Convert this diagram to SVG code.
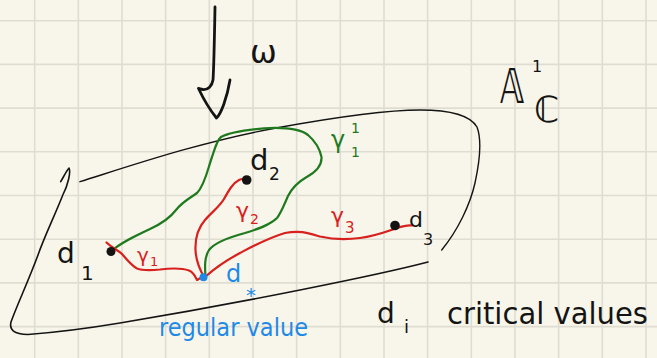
<svg xmlns="http://www.w3.org/2000/svg" width="657" height="358" viewBox="0 0 657 358">
<style>
.ink{fill:none;stroke-linecap:round;stroke-linejoin:round}
.blk{stroke:#141414}
.red{stroke:#d8201e;stroke-width:2.2}
.grn{stroke:#1f7a1f;stroke-width:2.2}
.grid{stroke:#dfddd1;stroke-width:1.6;fill:none}
.t{font-family:"DejaVu Sans",sans-serif}
.tk{fill:#141414}
.tr{fill:#d8201e}
.tg{fill:#1f7a1f}
.tb{fill:#1e8ae6}
</style>
<rect width="657" height="358" fill="#f8f6ea"/>
<g id="grid">
<path class="grid" d="M34.7,0V358M78.3,0V358M122,0V358M165.6,0V358M209.3,0V358M253,0V358M296.6,0V358M340.3,0V358M384,0V358M427.6,0V358M471.3,0V358M515,0V358M558.6,0V358M602.3,0V358M646,0V358M0,20.7H657M0,64.4H657M0,108.1H657M0,151.8H657M0,195.5H657M0,239.2H657M0,282.9H657M0,326.6H657"/>
</g>
<g id="plane">
<path class="ink blk" stroke-width="1.6" d="M60.7,181.7C64,176 67,170 69,168C71,172 68,185 62.8,195C55,215 45,235 38,255C28,282 17,305 11,322C9,330 14,334 28,334.5C60,332 90,328 120,323C180,313 240,302 300,290C340,282 390,272 428,262"/>
<path class="ink blk" stroke-width="1.4" d="M80,181.7C130,166 200,142 276,128C320,120 380,110 420,110C450,110 470,115 477,127C482,140 480,160 475,183C470,205 458,230 441.7,250"/>
</g>
<g id="arrow">
<path class="ink blk" stroke-width="2.8" d="M215,7C214.5,35 214,65 213,80C212,86 208,90 203,89.5C200,89 198,88 198.5,88.5C203,98 210,110 216.5,118C221,114 227,98 230,80"/>
</g>
<g id="connectors">
<path id="gamma1p" class="ink grn" d="M111,251.5C120,243 135,236 150,229C163,223 170,218 176,210C182,202 190,198 197,193C205,185 208,168 212,157C215,148 217,140 221,137C230,132 245,130 264,128.3C285,127 300,129 308,135C315,141 320,150 321.5,157C322,165 316,172 306.7,177C298,182 292,188 288,196C284,205 281,213 277,218C270,225 258,229 245,233C230,237 215,242 209,250C204,258 205,268 205.5,277"/>
<path id="gamma1" class="ink red" d="M106.5,242.5C112,248 118,250 122,254C128,261 132,266 137,268.5C142,270.5 150,270.5 160,269.5C172,268 182,268 189,270.5C195,273 196,279 197,280C199,279 201,277 204,277"/>
<path id="gamma2" class="ink red" d="M204,277C200,270 196,262 195.5,250C195,238 198,228 205,220C212,212 220,206 224,199C229,190 233,183 239,180C242,178.5 245,179 247,180"/>
<path id="gamma3" class="ink red" d="M205,277C215,268 225,261 240,253C255,245 268,238 285,233C300,230 308,233 320,236.5C333,239.5 345,240 360,238C375,236 388,231 397,228C403,226 408,225 412,225.5"/>
</g>
<g id="d1"><circle cx="111" cy="251.5" r="4.5" fill="#141414"/>
<text class="t tk" x="57" y="263" font-size="28">d</text><text class="t tk" x="81" y="280" font-size="20">1</text></g>
<g id="d2"><circle cx="246.7" cy="180" r="4.8" fill="#141414"/>
<text class="t tk" x="250" y="170" font-size="29">d</text><text class="t tk" x="269" y="180" font-size="17">2</text></g>
<g id="d3"><circle cx="395" cy="225.5" r="4.8" fill="#141414"/>
<text class="t tk" x="409" y="227" font-size="22">d</text><text class="t tk" x="423" y="245" font-size="16">3</text></g>
<g id="dstar"><circle cx="203.5" cy="277.3" r="4" fill="#1e8ae6"/>
<text class="t tb" x="226" y="282" font-size="24">d</text><text class="t tb" x="246" y="302" font-size="20">*</text></g>
<g id="labels">
<text class="t tk" x="250" y="63" font-size="32">ω</text>
<text class="t tk" font-size="48" transform="translate(500,103) scale(0.68,1)">𝔸</text>
<text class="t tk" x="532" y="72" font-size="16">1</text>
<text class="t tk" x="534" y="122" font-size="36">ℂ</text>
<text class="t tr" x="137" y="262" font-size="20">γ</text><text class="t tr" x="150" y="266" font-size="13">1</text>
<text class="t tr" x="236" y="218" font-size="22">γ</text><text class="t tr" x="250" y="224" font-size="14">2</text>
<text class="t tr" x="331" y="223" font-size="22">γ</text><text class="t tr" x="345" y="233" font-size="15">3</text>
<text class="t tg" x="331" y="148" font-size="24">γ</text><text class="t tg" x="351" y="133" font-size="14">1</text><text class="t tg" x="351" y="157" font-size="14">1</text>
<text class="t tb" x="159" y="336" font-size="25" textLength="149" lengthAdjust="spacingAndGlyphs">regular value</text>
<text class="t tk" x="377" y="323" font-size="28">d</text><text class="t tk" x="404" y="333" font-size="18">i</text>
<text class="t tk" x="447" y="324" font-size="30" textLength="201" lengthAdjust="spacingAndGlyphs">critical values</text>
</g>
</svg>
